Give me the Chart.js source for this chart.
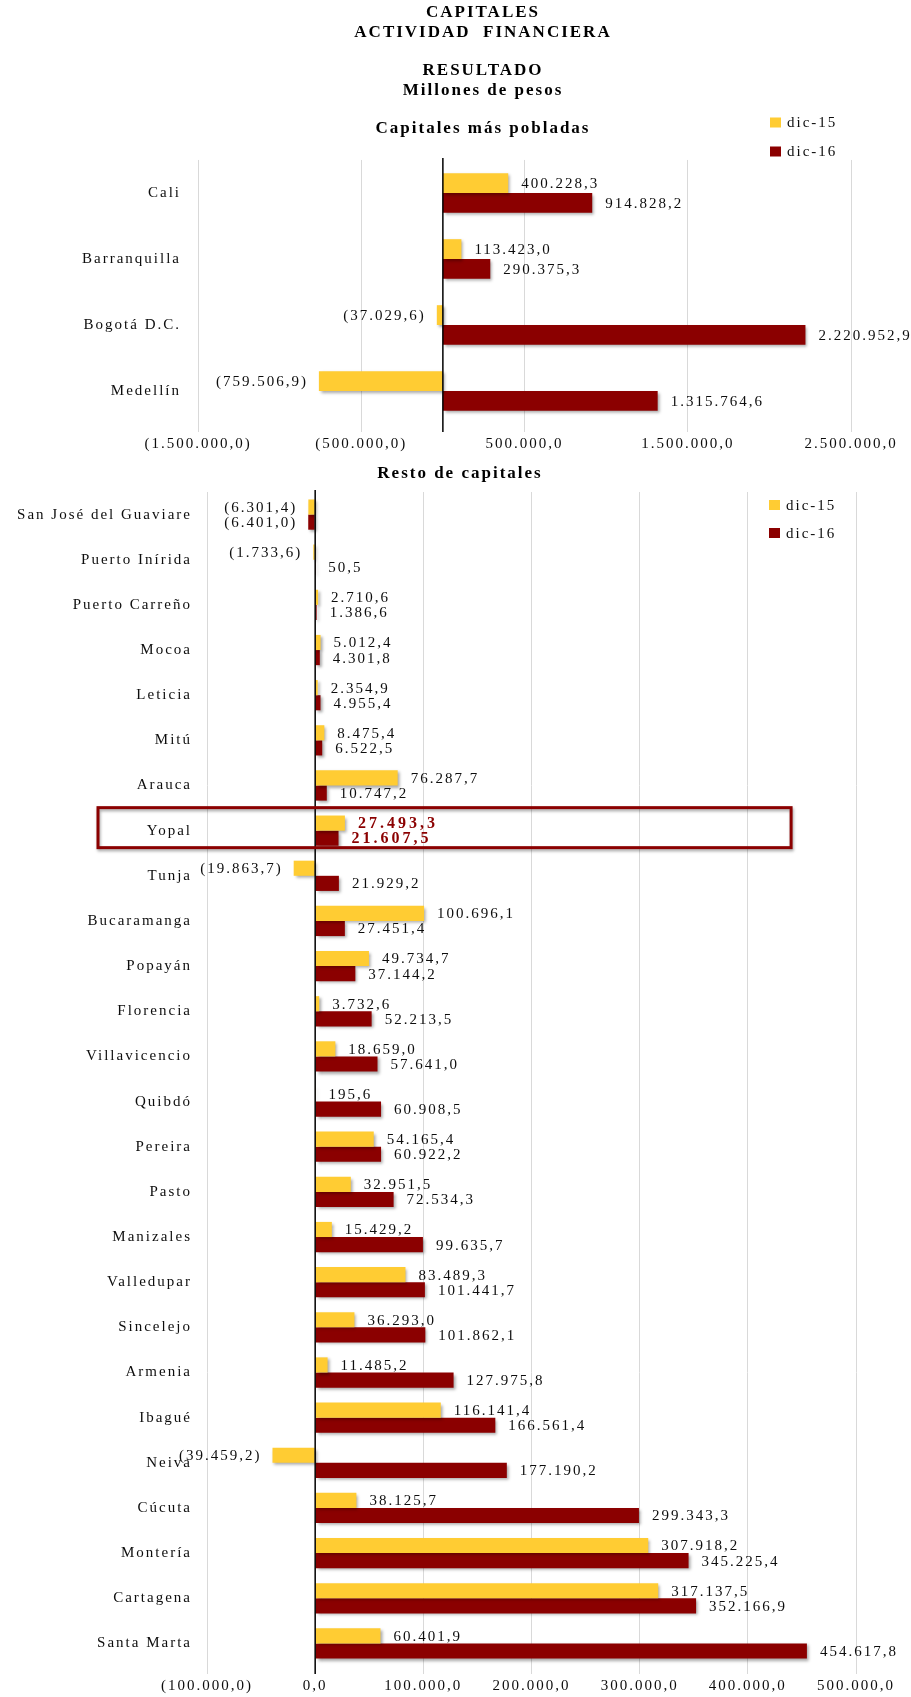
<!DOCTYPE html>
<html lang="es">
<head>
<meta charset="utf-8">
<title>Capitales - Actividad financiera - Resultado</title>
<script src="https://cdn.jsdelivr.net/npm/chart.js@4.4.1/dist/chart.umd.min.js"></script>
<style>
  html, body { margin: 0; padding: 0; background: #fff; }
  canvas { display: block; }
</style>
</head>
<body>
<canvas id="topChart" width="911" height="455"></canvas>
<canvas id="restChart" width="911" height="1242"></canvas>
<script>
// capitales mas pobladas
var topCities = ['Cali', 'Barranquilla', 'Bogotá D.C.', 'Medellín'];
var top2015 = [400228.3, 113423.0, -37029.6, -759506.9];
var top2016 = [914828.2, 290375.3, 2220952.9, 1315764.6];
var topTicks = [-1500000, -500000, 500000, 1500000, 2500000];

// resto de capitales
var restCities = ['San José del Guaviare', 'Puerto Inírida', 'Puerto Carreño', 'Mocoa', 'Leticia',
    'Mitú', 'Arauca', 'Yopal', 'Tunja', 'Bucaramanga', 'Popayán', 'Florencia', 'Villavicencio',
    'Quibdó', 'Pereira', 'Pasto', 'Manizales', 'Valledupar', 'Sincelejo', 'Armenia', 'Ibagué',
    'Neiva', 'Cúcuta', 'Montería', 'Cartagena', 'Santa Marta'];
var rest2015 = [-6301.4, -1733.6, 2710.6, 5012.4, 2354.9, 8475.4, 76287.7, 27493.3, -19863.7,
    100696.1, 49734.7, 3732.6, 18659.0, 195.6, 54165.4, 32951.5, 15429.2, 83489.3, 36293.0,
    11485.2, 116141.4, -39459.2, 38125.7, 307918.2, 317137.5, 60401.9];
var rest2016 = [-6401.0, 50.5, 1386.6, 4301.8, 4955.4, 6522.5, 10747.2, 21607.5, 21929.2,
    27451.4, 37144.2, 52213.5, 57641.0, 60908.5, 60922.2, 72534.3, 99635.7, 101441.7, 101862.1,
    127975.8, 166561.4, 177190.2, 299343.3, 345225.4, 352166.9, 454617.8];
var restTicks = [-100000, 0, 100000, 200000, 300000, 400000, 500000];

var yellow = '#FFCC33';
var darkRed = '#8B0000';
var gridGray = '#D9D9D9';
var textColor = '#0d0d0d';
var serif = '"Liberation Serif", "Times New Roman", serif';

// 1234567.8 -> 1.234.567,8 ; negativos entre parentesis
function formatNumber(v) {
    var parts = Math.abs(v).toFixed(1).split('.');
    var s = parts[0].replace(/\B(?=(\d{3})+(?!\d))/g, '.') + ',' + parts[1];
    return v < 0 ? '(' + s + ')' : s;
}

var excelLook = {
    id: 'excelLook',
    beforeUpdate: function(chart) { chart.ctx.letterSpacing = '2px'; },
    afterLayout: function(chart, args, opts) {
        // centrar el titulo donde va en el original
        var t = chart.titleBlock;
        if (t && opts.titleCenter) {
            var w = t.right - t.left;
            t.left = opts.titleCenter - w / 2;
            t.right = t.left + w;
        }
    },
    beforeDraw: function(chart) { chart.ctx.letterSpacing = '2px'; },
    beforeDatasetsDraw: function(chart) {
        var ctx = chart.ctx;
        ctx.save();
        ctx.shadowColor = 'rgba(0, 0, 0, 0.35)';
        ctx.shadowBlur = 3;
        ctx.shadowOffsetX = 2;
        ctx.shadowOffsetY = 2;
    },
    afterDatasetsDraw: function(chart, args, opts) {
        var ctx = chart.ctx;
        ctx.restore();
        var xs = chart.scales.x, area = chart.chartArea;

        // eje en cero
        var x0 = xs.getPixelForValue(0);
        ctx.save();
        ctx.strokeStyle = '#000';
        ctx.lineWidth = 1.5;
        ctx.beginPath();
        ctx.moveTo(x0, area.top - 2);
        ctx.lineTo(x0, area.bottom + 8);
        ctx.stroke();
        ctx.restore();

        // etiquetas de valores
        chart.data.datasets.forEach(function(ds, di) {
            var meta = chart.getDatasetMeta(di);
            meta.data.forEach(function(bar, i) {
                var v = ds.data[i];
                var hi = opts.highlight === i;
                ctx.save();
                ctx.font = (hi ? 'bold 16px ' : '15px ') + serif;
                ctx.letterSpacing = hi ? '3px' : '2px';
                ctx.fillStyle = hi ? darkRed : textColor;
                ctx.textBaseline = 'middle';
                if (v < 0) {
                    ctx.textAlign = 'right';
                    ctx.fillText(formatNumber(v), bar.x - 11, bar.y + 1);
                } else {
                    ctx.textAlign = 'left';
                    ctx.fillText(formatNumber(v), bar.x + 13, bar.y + 1);
                }
                ctx.restore();
            });
        });
    },
    afterDraw: function(chart, args, opts) {
        var ctx = chart.ctx, area = chart.chartArea;

        // recuadro de la capital resaltada
        if (opts.highlight !== undefined) {
            var yc = chart.scales.y.getPixelForValue(opts.highlight);
            var left = area.left - 109;
            var right = chart.scales.x.getPixelForValue(opts.boxEnd);
            ctx.save();
            ctx.shadowColor = 'rgba(0, 0, 0, 0.35)';
            ctx.shadowBlur = 3;
            ctx.shadowOffsetX = 1;
            ctx.shadowOffsetY = 2;
            ctx.strokeStyle = darkRed;
            ctx.lineWidth = 3;
            ctx.strokeRect(left, yc - 23, right - left, 40);
            ctx.restore();
        }

        // leyenda
        var lg = opts.legend;
        chart.data.datasets.forEach(function(ds, di) {
            var y = lg.y + di * lg.gap;
            ctx.save();
            ctx.fillStyle = ds.backgroundColor;
            ctx.fillRect(lg.x, y - 5, 11, 10);
            ctx.fillStyle = textColor;
            ctx.font = '15px ' + serif;
            ctx.letterSpacing = '2px';
            ctx.textAlign = 'left';
            ctx.textBaseline = 'middle';
            ctx.fillText(ds.label, lg.x + 17, y + 1);
            ctx.restore();
        });
    }
};

function makeChart(id, labels, d15, d16, ticks, cfg) {
    return new Chart(document.getElementById(id), {
        type: 'bar',
        data: {
            labels: labels,
            datasets: [
                { label: 'dic-15', data: d15, backgroundColor: yellow,
                  barPercentage: 1, categoryPercentage: cfg.catPct },
                { label: 'dic-16', data: d16, backgroundColor: darkRed,
                  barPercentage: 1, categoryPercentage: cfg.catPct }
            ]
        },
        options: {
            indexAxis: 'y',
            responsive: false,
            animation: false,
            events: [],
            layout: { padding: cfg.padding },
            scales: {
                x: {
                    min: ticks[0],
                    max: ticks[ticks.length - 1],
                    afterBuildTicks: function(scale) {
                        scale.ticks = ticks.map(function(v) { return { value: v }; });
                    },
                    afterFit: function(scale) { scale.height = 31; },
                    grid: { color: gridGray, tickColor: gridGray, tickLength: 8 },
                    border: { display: false },
                    ticks: {
                        callback: function(v) { return formatNumber(v); },
                        font: { family: serif, size: 15 },
                        color: textColor,
                        padding: 3,
                        maxRotation: 0,
                        autoSkip: false
                    }
                },
                y: {
                    afterFit: function(scale) { scale.width = cfg.yWidth; },
                    grid: { display: false },
                    border: { display: false },
                    ticks: {
                        font: { family: serif, size: 15 },
                        color: textColor,
                        padding: cfg.yPad,
                        autoSkip: false
                    }
                }
            },
            plugins: {
                legend: { display: false },
                tooltip: { enabled: false },
                title: {
                    display: true,
                    text: cfg.title,
                    color: '#000',
                    font: { family: serif, size: 17, weight: 'bold', lineHeight: cfg.titleLine },
                    padding: cfg.titlePad
                },
                excelLook: cfg.extra
            }
        },
        plugins: [excelLook]
    });
}

makeChart('topChart', topCities, top2015, top2016, topTicks, {
    catPct: 0.6,
    padding: { left: 10, right: 60, top: 0, bottom: 0 },
    yWidth: 188,
    yPad: 9,
    title: ['CAPITALES', 'ACTIVIDAD  FINANCIERA', '', 'RESULTADO', 'Millones de pesos', '',
            'Capitales más pobladas'],
    titleLine: 1.135,
    titlePad: { top: 3.4, bottom: 21.5 },
    extra: { legend: { x: 770, y: 122.5, gap: 29 }, titleCenter: 483 }
});

makeChart('restChart', restCities, rest2015, rest2016, restTicks, {
    catPct: 0.67,
    padding: { left: 4, right: 55, top: 0, bottom: 0 },
    yWidth: 203,
    yPad: 7,
    title: 'Resto de capitales',
    titleLine: 1.2,
    titlePad: { top: 8.8, bottom: 7.8 },
    extra: { legend: { x: 769, y: 50, gap: 28 }, highlight: 7, boxEnd: 440000, titleCenter: 460 }
});
</script>
</body>
</html>
